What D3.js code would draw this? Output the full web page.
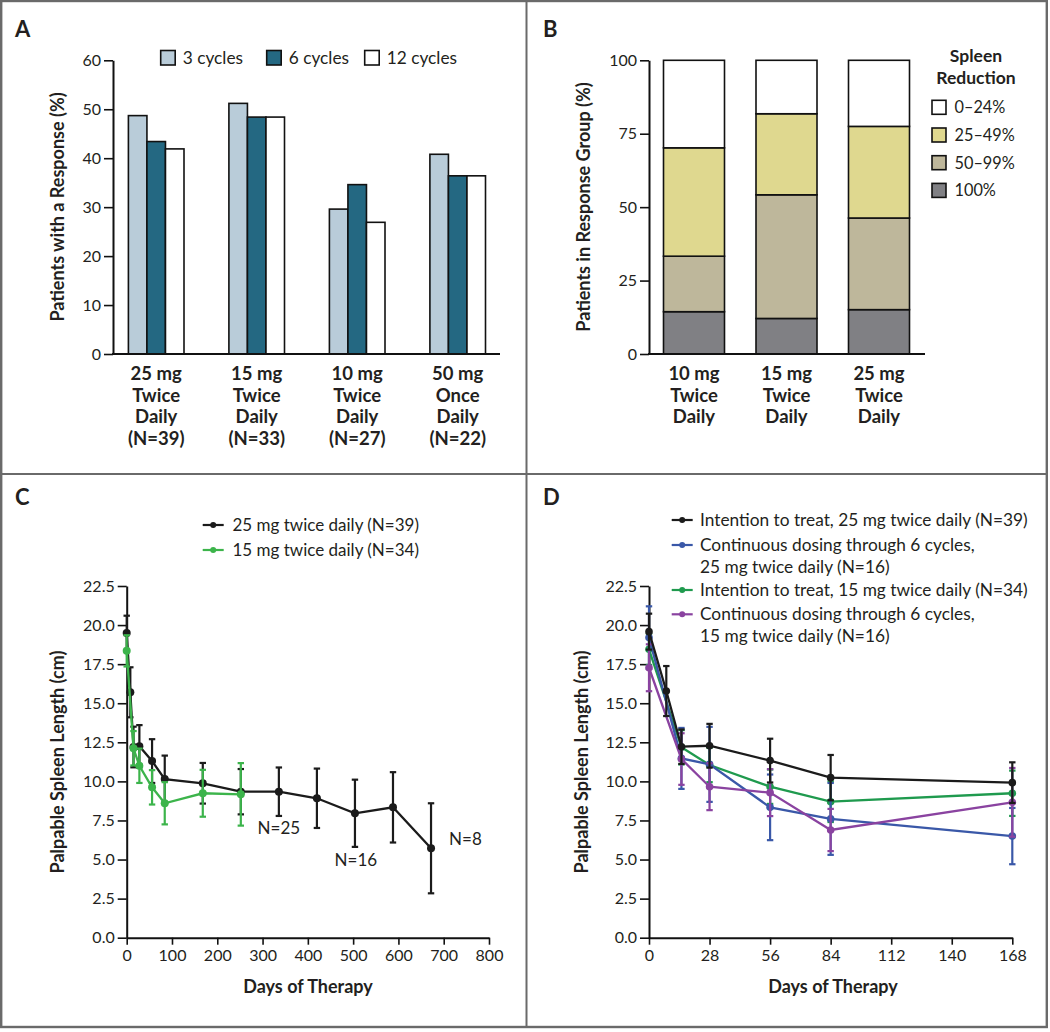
<!DOCTYPE html>
<html><head><meta charset="utf-8">
<script src="https://cdn.jsdelivr.net/npm/d3@7"></script>
<style>
body{margin:0;background:#fff}
svg{display:block}
text{font-family:Lato,"Open Sans","DejaVu Sans",sans-serif;fill:#231f20}
</style>
</head><body>
<svg id="chart" width="1050" height="1032"></svg>
<script>
// ---------------- DATA ----------------
// Panel A
const aCategories = [["25 mg","Twice","Daily","(N=39)"],["15 mg","Twice","Daily","(N=33)"],["10 mg","Twice","Daily","(N=27)"],["50 mg","Once","Daily","(N=22)"]];
const aSeries = ["3 cycles","6 cycles","12 cycles"];
const aValues3 = [48.7, 51.2, 29.6, 40.8];
const aValues6 = [43.4, 48.4, 34.6, 36.4];
const aValues12 = [41.9, 48.4, 26.9, 36.4];
const aTicks = [0,10,20,30,40,50,60];
// Panel B
const bCategories = [["10 mg","Twice","Daily"],["15 mg","Twice","Daily"],["25 mg","Twice","Daily"]];
const bGroups = ["0\u201324%","25\u201349%","50\u201399%","100%"];
const b100 = [14.4, 12.1, 15.1];
const b50to99 = [18.9, 42.1, 31.2];
const b25to49 = [36.9, 27.6, 31.2];
const b0to24 = [29.8, 18.2, 22.5];
const bTicks = [0,25,50,75,100];
// Panel C
const cDays25 = [0,8,15,28,56,84,168,252,336,420,504,588,672];
const cMean25 = [19.5,15.7,12.2,12.25,11.3,10.15,9.88,9.34,9.34,8.92,7.96,8.34,5.72];
const cErr25  = [1.1,1.6,1.3,1.35,1.4,1.5,1.3,1.45,1.55,1.9,2.15,2.25,2.88];
const cDays15 = [0,15,28,56,84,168,252];
const cMean15 = [18.35,12.12,11.0,9.62,8.6,9.24,9.17];
const cErr15  = [1.0,1.1,1.1,1.1,1.35,1.5,2.0];
const cLegend = ["25 mg twice daily (N=39)","15 mg twice daily (N=34)"];
const cNotes = [{day:336,val:6.63,text:"N=25"},{day:506,val:4.59,text:"N=16"},{day:748,val:5.93,text:"N=8"}];
const cXTicks = [0,100,200,300,400,500,600,700,800];
// Panel D
const dDaysITT25 = [0,8,15,28,56,84,168];
const dMeanITT25 = [19.58,15.78,12.22,12.28,11.33,10.24,9.92];
const dErrITT25  = [1.15,1.6,1.1,1.4,1.4,1.45,1.3];
const dDays6 = [0,15,28,56,84,168];
const dMeanCont25 = [19.2,11.47,11.09,8.34,7.6,6.5];
const dErrCont25  = [2.0,1.95,2.4,2.1,2.3,1.8];
const dMeanITT15 = [18.45,12.18,11.05,9.66,8.7,9.24];
const dErrITT15  = [1.0,1.1,1.1,1.1,1.3,1.45];
const dMeanCont15 = [17.27,11.43,9.66,9.28,6.89,8.66];
const dErrCont15  = [1.5,1.65,1.5,1.5,1.35,2.2];
const dLegend = [["Intention to treat, 25 mg twice daily (N=39)"],["Continuous dosing through 6 cycles,","25 mg twice daily (N=16)"],["Intention to treat, 15 mg twice daily (N=34)"],["Continuous dosing through 6 cycles,","15 mg twice daily (N=16)"]];
const dXTicks = [0,28,56,84,112,140,168];
const yTicksCD = [0,2.5,5,7.5,10,12.5,15,17.5,20,22.5];

// ---------------- DRAW ----------------
const svg = d3.select("#chart");
svg.append("rect").attr("width",1050).attr("height",1032).attr("fill","#fff");

const tickFont = 16, titleFont = 18, legFont = 17.3;

function styleAxis(g){
  g.selectAll("path.domain").attr("stroke","#111").attr("stroke-width",2);
  g.selectAll(".tick line").attr("stroke","#111").attr("stroke-width",1.6);
  g.selectAll(".tick text").attr("font-size",tickFont).style("font-family","Lato,'Open Sans',sans-serif").attr("fill","#231f20");
}
function panelLetter(t,x,y){
  svg.append("text").attr("x",x).attr("y",y).attr("font-size",22).attr("font-weight",700).text(t);
}
function yTitle(t,x,yc){
  svg.append("text").attr("transform",`translate(${x},${yc}) rotate(-90)`).attr("text-anchor","middle")
    .attr("font-size",titleFont).attr("font-weight",700).text(t);
}

// Borders
const bc = "#6a6a6a";
svg.append("rect").attr("x",1.2).attr("y",1).attr("width",1045.6).attr("height",1026).attr("fill","none").attr("stroke",bc).attr("stroke-width",2.4);
svg.append("line").attr("x1",526.5).attr("x2",526.5).attr("y1",0).attr("y2",1028).attr("stroke",bc).attr("stroke-width",2);
svg.append("line").attr("x1",0).attr("x2",1048).attr("y1",474).attr("y2",474).attr("stroke",bc).attr("stroke-width",2);

// ===== Panel A =====
panelLetter("A",15,37);
const aY = d3.scaleLinear().domain([0,60]).range([354,60.3]);
const aX0 = d3.scalePoint().domain(d3.range(aCategories.length)).range([156.2,457.7]);
const aX1 = d3.scaleBand().domain(aSeries).range([-27.8,27.8]);
const aColors = {"3 cycles":"#b9ccd9","6 cycles":"#246882","12 cycles":"#ffffff"};
const aData = [aValues3,aValues6,aValues12];
aSeries.forEach((s,si)=>{
  svg.append("g").selectAll("rect").data(aData[si]).join("rect")
    .attr("x",(d,i)=>aX0(i)+aX1(s)).attr("width",aX1.bandwidth())
    .attr("y",d=>aY(d)).attr("height",d=>aY(0)-aY(d))
    .attr("fill",aColors[s]).attr("stroke","#111").attr("stroke-width",1.6);
});
const aAxis = svg.append("g").attr("transform","translate(113,0)")
  .call(d3.axisLeft(aY).tickValues(aTicks).tickSize(9).tickPadding(3).tickSizeOuter(0));
styleAxis(aAxis);
svg.append("line").attr("x1",112).attr("x2",500).attr("y1",aY(0)).attr("y2",aY(0)).attr("stroke","#111").attr("stroke-width",2);
yTitle("Patients with a Response (%)",64,207);
aCategories.forEach((lines,i)=>{
  const t = svg.append("text").attr("text-anchor","middle").attr("font-size",18.5).attr("font-weight",700);
  lines.forEach((l,j)=>t.append("tspan").attr("x",aX0(i)).attr("y",380+j*21.6).text(l));
});
// legend A
const aLegX = [160.7,266.7,364.7];
aSeries.forEach((s,i)=>{
  svg.append("rect").attr("x",aLegX[i]).attr("y",50.5).attr("width",14.5).attr("height",14.5)
    .attr("fill",aColors[s]).attr("stroke","#111").attr("stroke-width",1.6);
  svg.append("text").attr("x",aLegX[i]+22).attr("y",63.5).attr("font-size",legFont).text(s);
});

// ===== Panel B =====
panelLetter("B",543,37);
const bY = d3.scaleLinear().domain([0,100]).range([354,60.3]);
const bX = d3.scalePoint().domain(d3.range(bCategories.length)).range([694,879]);
const bW = 61;
const bKeys = ["100%","50\u201399%","25\u201349%","0\u201324%"];
const bCols = {"100%":"#808084","50\u201399%":"#beb79b","25\u201349%":"#dfd88f","0\u201324%":"#ffffff"};
const bRows = bCategories.map((c,i)=>({"100%":b100[i],"50\u201399%":b50to99[i],"25\u201349%":b25to49[i],"0\u201324%":b0to24[i],idx:i}));
const bStack = d3.stack().keys(bKeys)(bRows);
bStack.forEach(layer=>{
  svg.append("g").selectAll("rect").data(layer).join("rect")
    .attr("x",d=>bX(d.data.idx)-bW/2).attr("width",bW)
    .attr("y",d=>bY(d[1])).attr("height",d=>bY(d[0])-bY(d[1]))
    .attr("fill",bCols[layer.key]).attr("stroke","#111").attr("stroke-width",1.6);
});
const bAxis = svg.append("g").attr("transform","translate(649,0)")
  .call(d3.axisLeft(bY).tickValues(bTicks).tickSize(9).tickPadding(3).tickSizeOuter(0));
styleAxis(bAxis);
svg.append("line").attr("x1",648).attr("x2",925).attr("y1",bY(0)).attr("y2",bY(0)).attr("stroke","#111").attr("stroke-width",2);
yTitle("Patients in Response Group (%)",590,207);
bCategories.forEach((lines,i)=>{
  const t = svg.append("text").attr("text-anchor","middle").attr("font-size",18.5).attr("font-weight",700);
  lines.forEach((l,j)=>t.append("tspan").attr("x",bX(i)).attr("y",380+j*21.6).text(l));
});
// legend B
svg.append("text").attr("x",976).attr("y",62).attr("text-anchor","middle").attr("font-size",17.5).attr("font-weight",700).text("Spleen");
svg.append("text").attr("x",976).attr("y",84).attr("text-anchor","middle").attr("font-size",17.5).attr("font-weight",700).text("Reduction");
bGroups.forEach((g,i)=>{
  const y0 = 100.3 + i*27.7;
  svg.append("rect").attr("x",932).attr("y",y0).attr("width",14).attr("height",14)
    .attr("fill",bCols[g]).attr("stroke","#111").attr("stroke-width",1.6);
  svg.append("text").attr("x",954.5).attr("y",y0+12.8).attr("font-size",16.3).text(g);
});

// ===== line panel helper =====
function drawSeries(x,y,days,mean,err,color,r){
  const pts = days.map((d,i)=>({d,m:mean[i],e:err[i]}));
  const g = svg.append("g");
  pts.forEach(p=>{
    g.append("line").attr("x1",x(p.d)).attr("x2",x(p.d)).attr("y1",y(p.m-p.e)).attr("y2",y(p.m+p.e)).attr("stroke",color).attr("stroke-width",2.2);
    [p.m-p.e,p.m+p.e].forEach(v=>g.append("line").attr("x1",x(p.d)-3.2).attr("x2",x(p.d)+3.2).attr("y1",y(v)).attr("y2",y(v)).attr("stroke",color).attr("stroke-width",2.2));
  });
  g.append("path").datum(pts).attr("fill","none").attr("stroke",color).attr("stroke-width",2.3)
    .attr("d",d3.line().x(p=>x(p.d)).y(p=>y(p.m)));
  g.selectAll("circle").data(pts).join("circle").attr("cx",p=>x(p.d)).attr("cy",p=>y(p.m)).attr("r",r).attr("fill",color);
}
function legendLine(x1,yc,color){
  svg.append("line").attr("x1",x1).attr("x2",x1+21).attr("y1",yc).attr("y2",yc).attr("stroke",color).attr("stroke-width",2.2);
  svg.append("circle").attr("cx",x1+10.5).attr("cy",yc).attr("r",3).attr("fill",color);
}

// ===== Panel C =====
panelLetter("C",15,505);
const cX = d3.scaleLinear().domain([0,800]).range([126.7,489]);
const cY = d3.scaleLinear().domain([0,22.5]).range([937.7,586]);
const cxAxis = svg.append("g").attr("transform",`translate(0,${cY(0)})`)
  .call(d3.axisBottom(cX).tickValues(cXTicks).tickSize(7).tickPadding(5).tickSizeOuter(0));
styleAxis(cxAxis);
const cyAxis = svg.append("g").attr("transform",`translate(${cX(0)},0)`)
  .call(d3.axisLeft(cY).tickValues(yTicksCD).tickFormat(d3.format(".1f")).tickSize(9).tickPadding(3).tickSizeOuter(0));
styleAxis(cyAxis);
const cBlack = "#1b1b1b", cGreen = "#3cb44b";
drawSeries(cX,cY,cDays25,cMean25,cErr25,cBlack,4);
drawSeries(cX,cY,cDays15,cMean15,cErr15,cGreen,4);
cNotes.forEach(n=>svg.append("text").attr("x",cX(n.day)).attr("y",cY(n.val)).attr("text-anchor","middle").attr("font-size",17).text(n.text));
yTitle("Palpable Spleen Length (cm)",64,762);
svg.append("text").attr("x",308).attr("y",993).attr("text-anchor","middle").attr("font-size",titleFont).attr("font-weight",700).text("Days of Therapy");
[cBlack,cGreen].forEach((c,i)=>{
  legendLine(202.7,525+i*25,c);
  svg.append("text").attr("x",232.5).attr("y",525+i*25+6).attr("font-size",17).text(cLegend[i]);
});

// ===== Panel D =====
panelLetter("D",543,505);
const dX = d3.scaleLinear().domain([0,168]).range([649,1012.3]);
const dY = d3.scaleLinear().domain([0,22.5]).range([937.7,586]);
const dxAxis = svg.append("g").attr("transform",`translate(0,${dY(0)})`)
  .call(d3.axisBottom(dX).tickValues(dXTicks).tickSize(7).tickPadding(5).tickSizeOuter(0));
styleAxis(dxAxis);
const dyAxis = svg.append("g").attr("transform",`translate(${dX(0)},0)`)
  .call(d3.axisLeft(dY).tickValues(yTicksCD).tickFormat(d3.format(".1f")).tickSize(9).tickPadding(3).tickSizeOuter(0));
styleAxis(dyAxis);
const dBlack="#1b1b1b", dBlue="#3a58a8", dGreen="#1f9a4e", dPurple="#8a43a0";
drawSeries(dX,dY,dDays6,dMeanITT15,dErrITT15,dGreen,3.8);
drawSeries(dX,dY,dDays6,dMeanCont25,dErrCont25,dBlue,3.8);
drawSeries(dX,dY,dDays6,dMeanCont15,dErrCont15,dPurple,3.8);
drawSeries(dX,dY,dDaysITT25,dMeanITT25,dErrITT25,dBlack,3.8);
yTitle("Palpable Spleen Length (cm)",588,762);
svg.append("text").attr("x",833).attr("y",993).attr("text-anchor","middle").attr("font-size",titleFont).attr("font-weight",700).text("Days of Therapy");
const dLegY = [520,545,590,614.3];
[dBlack,dBlue,dGreen,dPurple].forEach((c,i)=>{
  legendLine(671.7,dLegY[i],c);
  const t = svg.append("text").attr("font-size",legFont);
  dLegend[i].forEach((l,j)=>t.append("tspan").attr("x",700).attr("y",dLegY[i]+6+j*21.5).text(l));
});
</script>
</body></html>
